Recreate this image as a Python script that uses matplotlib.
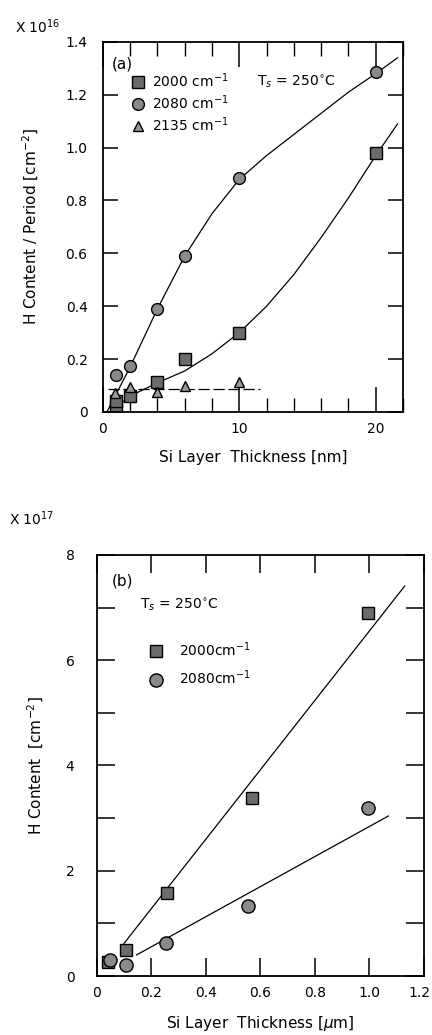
import matplotlib.pyplot as plt
from matplotlib.ticker import MultipleLocator
from matplotlib.transforms import ScaledTranslation

# panel (a): H content per period vs Si layer thickness (nm), x 1e16 cm^-2
a_sq_x = [1, 1, 2, 4, 6, 10, 20]
a_sq_y = [0.02, 0.04, 0.06, 0.115, 0.20, 0.30, 0.98]
a_ci_x = [1, 2, 4, 6, 10, 20]
a_ci_y = [0.14, 0.175, 0.39, 0.59, 0.885, 1.285]
a_tr_x = [0.9, 2, 4, 6, 10]
a_tr_y = [0.07, 0.095, 0.075, 0.097, 0.115]

# hand-drawn guide curves
a_ci_fit_x = [0.3, 1, 2, 3, 4, 5, 6, 8, 10, 12, 15, 18, 20, 21.6]
a_ci_fit_y = [0.0, 0.07, 0.17, 0.28, 0.39, 0.49, 0.59, 0.75, 0.88, 0.97, 1.09, 1.21, 1.28, 1.34]
a_sq_fit_x = [0.6, 1, 2, 4, 6, 8, 10, 12, 14, 16, 18, 20, 21.6]
a_sq_fit_y = [0.0, 0.02, 0.06, 0.11, 0.155, 0.22, 0.30, 0.40, 0.52, 0.66, 0.81, 0.97, 1.09]
a_tr_fit_x = [0.4, 11.5]
a_tr_fit_y = [0.088, 0.088]

# panel (b): H content vs Si layer thickness (um), x 1e17 cm^-2
b_sq_x = [0.043, 0.107, 0.257, 0.568, 0.996]
b_sq_y = [0.27, 0.49, 1.57, 3.38, 6.9]
b_ci_x = [0.05, 0.107, 0.254, 0.556, 0.996]
b_ci_y = [0.30, 0.21, 0.62, 1.33, 3.19]

b_sq_fit_x = [0.1, 1.13]
b_sq_fit_y = [0.62, 7.41]
b_ci_fit_x = [0.146, 1.07]
b_ci_fit_y = [0.40, 3.04]

labels = ["2000 cm$^{-1}$", "2080 cm$^{-1}$", "2135 cm$^{-1}$"]
a_yticks = [0, 0.2, 0.4, 0.6, 0.8, 1.0, 1.2, 1.4]
b_xticks = [0, 0.2, 0.4, 0.6, 0.8, 1.0, 1.2]


def style_axes(ax):
    for s in ax.spines.values():
        s.set_linewidth(1.3)
    ax.tick_params(which="both", direction="in", top=True, right=True,
                   width=1.1, labelsize=10, pad=7)


def main():
    plt.rcParams["font.family"] = "DejaVu Sans"
    fig = plt.figure(figsize=(4.32, 10.35), dpi=100)

    # ---- (a)
    ax = fig.add_axes([0.238, 0.602, 0.695, 0.3575])
    ax.plot(a_ci_fit_x, a_ci_fit_y, color="black", lw=0.9)
    ax.plot(a_sq_fit_x, a_sq_fit_y, color="black", lw=0.9)
    ax.plot(a_tr_fit_x, a_tr_fit_y, color="black", lw=0.9, dashes=(9, 3))
    ax.plot(a_sq_x, a_sq_y, "s", ms=8, mfc="#6b6b6b", mec="black", mew=1.0,
            label=labels[0])
    ax.plot(a_ci_x, a_ci_y, "o", ms=8.5, mfc="#8a8a8a", mec="black", mew=1.0,
            label=labels[1])
    ax.plot(a_tr_x, a_tr_y, "^", ms=7.5, mfc="#9a9a9a", mec="black", mew=1.0,
            label=labels[2])

    ax.set_xlim(0, 22)
    ax.set_ylim(0, 1.4)
    ax.xaxis.set_major_locator(MultipleLocator(10))
    ax.xaxis.set_minor_locator(MultipleLocator(2))
    ax.set_yticks(a_yticks)
    ax.set_yticklabels(["0"] + [f"{v:.1f}" for v in a_yticks[1:]])
    style_axes(ax)
    ax.tick_params(axis="x", which="major", length=18)
    ax.tick_params(axis="x", which="minor", length=10, width=1.0)
    ax.tick_params(axis="y", which="major", length=11, pad=11)

    ax.set_xlabel("Si Layer  Thickness [nm]", fontsize=11, labelpad=10)
    ax.set_ylabel("H Content / Period [cm$^{-2}$]", fontsize=11, labelpad=18)
    ax.text(0.65, 1.30, "(a)", fontsize=11)
    ax.text(11.3, 1.25, "T$_s$ = 250$^{\\circ}$C", fontsize=10, va="center")
    ax.legend(loc="upper left", bbox_to_anchor=(0.07, 0.935), frameon=False,
              fontsize=10, handletextpad=0.4, labelspacing=0.25,
              borderaxespad=0, handlelength=1.2)
    fig.text(0.035, 0.968, "X 10$^{16}$", fontsize=10)

    # ---- (b)
    bx = fig.add_axes([0.224, 0.057, 0.757, 0.4068])
    bx.plot(b_sq_fit_x, b_sq_fit_y, color="black", lw=0.9)
    bx.plot(b_ci_fit_x, b_ci_fit_y, color="black", lw=0.9)
    bx.plot(b_sq_x, b_sq_y, "s", ms=9, mfc="#6b6b6b", mec="black", mew=1.0,
            label=labels[0].replace(" ", ""))
    bx.plot(b_ci_x, b_ci_y, "o", ms=9.5, mfc="#8a8a8a", mec="black", mew=1.0,
            label=labels[1].replace(" ", ""))

    bx.set_xlim(0, 1.2)
    bx.set_ylim(0, 8)
    bx.set_xticks(b_xticks)
    bx.set_xticklabels(["0"] + [f"{v:.1f}" for v in b_xticks[1:]])
    bx.yaxis.set_major_locator(MultipleLocator(2))
    bx.yaxis.set_minor_locator(MultipleLocator(1))
    style_axes(bx)
    bx.tick_params(axis="x", which="major", length=13)
    bx.tick_params(axis="y", which="both", length=13)
    bx.tick_params(axis="y", which="major", pad=16)
    # keep the last x label inside the figure
    last = bx.get_xticklabels()[-1]
    last.set_transform(last.get_transform()
                       + ScaledTranslation(-4 / 100, 0, fig.dpi_scale_trans))

    bx.set_xlabel("Si Layer  Thickness [$\\mu$m]", fontsize=11, labelpad=10)
    bx.set_ylabel("H Content  [cm$^{-2}$]", fontsize=11, labelpad=14)
    bx.text(0.055, 7.5, "(b)", fontsize=11, va="center")
    bx.text(0.16, 7.05, "T$_s$ = 250$^{\\circ}$C", fontsize=10, va="center")
    bx.legend(loc="upper left", bbox_to_anchor=(0.14, 0.81), frameon=False,
              fontsize=10, handletextpad=1.0, labelspacing=0.7,
              borderaxespad=0, handlelength=1.2)
    fig.text(0.02, 0.493, "X 10$^{17}$", fontsize=10)

    fig.savefig("out.png", dpi=100)


if __name__ == "__main__":
    main()
